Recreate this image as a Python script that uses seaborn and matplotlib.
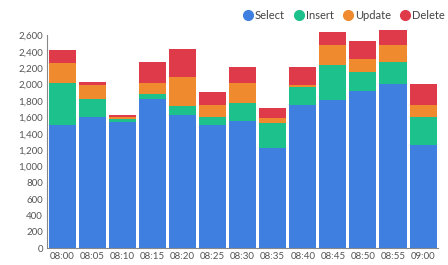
import pandas as pd
import matplotlib.pyplot as plt
import seaborn as sns
from matplotlib.lines import Line2D
from matplotlib.ticker import FuncFormatter

# Data
times = ['08:00', '08:05', '08:10', '08:15', '08:20', '08:25', '08:30',
         '08:35', '08:40', '08:45', '08:50', '08:55', '09:00']
select_q = [1510, 1610, 1545, 1820, 1630, 1505, 1560, 1225, 1745, 1815, 1925, 2005, 1265]
insert_q = [505, 210, 40, 60, 105, 95, 210, 305, 220, 425, 225, 270, 335]
update_q = [250, 180, 20, 140, 355, 155, 250, 60, 25, 245, 160, 210, 150]
delete_q = [155, 30, 20, 260, 345, 155, 190, 125, 220, 155, 225, 185, 255]

series = ['Select', 'Insert', 'Update', 'Delete']
colors = ['#3e7fe0', '#1dc18b', '#ef8a2e', '#df3a4a']

df = pd.DataFrame({'Time': times, 'Select': select_q, 'Insert': insert_q,
                   'Update': update_q, 'Delete': delete_q})
cum = df[series].cumsum(axis=1)
cum['Time'] = df['Time']

sns.set_style('white')
plt.rcParams['font.family'] = ['Lato', 'DejaVu Sans']

fig = plt.figure(figsize=(4.48, 2.65), dpi=100)
ax = fig.add_axes([0.105, 0.063, 0.873, 0.834])

# stacked bars: draw cumulative totals from top layer down
for name, col in reversed(list(zip(series, colors))):
    sns.barplot(data=cum, x='Time', y=name, color=col, width=0.9,
                saturation=1, edgecolor='none', ax=ax)

ax.set_xlim(-0.5, len(times) - 0.5)
ax.set_ylim(0, 2700)
ax.set_yticks(range(0, 2601, 200))
ax.yaxis.set_major_formatter(FuncFormatter(lambda v, p: f'{int(v):,}'))
ax.set_xlabel('')
ax.set_ylabel('')

ax.tick_params(axis='both', length=0, labelsize=7, labelcolor='#555555', pad=3)
ax.set_xticks([-0.5, len(times) - 0.5], minor=True)
ax.set_yticks([0], minor=True)
ax.tick_params(which='minor', length=3, color='#888888', width=0.8)

for s in ['top', 'right']:
    ax.spines[s].set_visible(False)
ax.spines['left'].set_bounds(0, 2600)
for s in ['left', 'bottom']:
    ax.spines[s].set_color('#888888')
    ax.spines[s].set_linewidth(0.8)

handles = [Line2D([], [], marker='o', linestyle='', markersize=7,
                  markerfacecolor=c, markeredgecolor=c, label=n)
           for n, c in zip(series, colors)]
fig.legend(handles=handles, loc='upper right', bbox_to_anchor=(1.015, 1.0),
           ncol=4, frameon=False, fontsize=8, handlelength=0.8,
           handletextpad=0.2, columnspacing=0.9, labelcolor='#444444')

fig.savefig('out.png', dpi=100)
